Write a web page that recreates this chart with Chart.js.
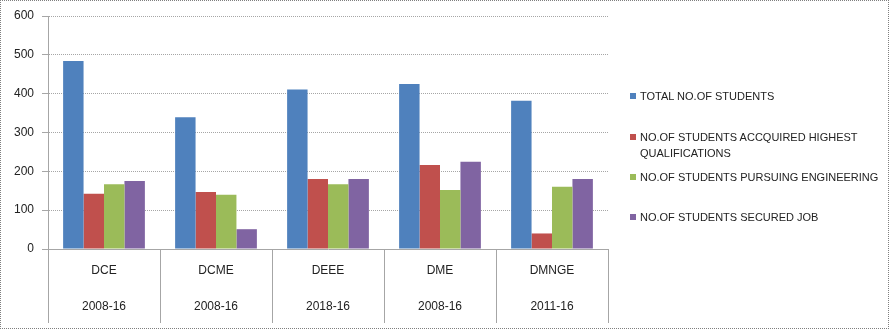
<!DOCTYPE html>
<html>
<head>
<meta charset="utf-8">
<script src="https://cdn.jsdelivr.net/npm/chart.js@4/dist/chart.umd.min.js"></script>
<style>
  body { margin: 0; background: #fff; }
  #wrap { position: relative; width: 891px; height: 331px; }
  #frame { position: absolute; left: 0; top: 0; width: 887px; height: 327px; border: 1px dotted #7f7f7f; pointer-events: none; }
  #legend { position: absolute; left: 630px; top: 0; font-family: "Liberation Sans", Arial, sans-serif; font-size: 11px; color: #222; }
  .item { position: absolute; left: 0; white-space: nowrap; line-height: 16px; }
  .box { position: absolute; left: 0; top: 5px; width: 6px; height: 6px; }
  .txt { position: absolute; left: 10px; top: 0; }
</style>
</head>
<body>
<div id="wrap">
  <canvas id="myChart" width="891" height="331"></canvas>
  <div id="legend"></div>
  <div id="frame"></div>
</div>
<script>
var branches = ["DCE", "DCME", "DEEE", "DME", "DMNGE"];
var batches  = ["2008-16", "2008-16", "2018-16", "2008-16", "2011-16"];

var seriesNames = [
	"TOTAL NO.OF STUDENTS",
	"NO.OF STUDENTS ACCQUIRED HIGHEST QUALIFICATIONS",
	"NO.OF STUDENTS PURSUING ENGINEERING",
	"NO.OF STUDENTS SECURED JOB"
];
var totalStudents   = [484, 339, 411, 425, 382];
var highestQualif   = [142, 147, 180, 216, 40];
var pursuingEngg    = [167, 140, 167, 152, 160];
var securedJob      = [175, 51, 180, 225, 180];

var colors = ["#4f81bd", "#c0504d", "#9bbb59", "#8064a2"];
var legendTops = [88, 129, 169, 209];

var allSeries = [totalStudents, highestQualif, pursuingEngg, securedJob];
var labels = branches.map(function(b, i) { return [b, batches[i]]; });

var datasets = allSeries.map(function(values, i) {
	return {
		label: seriesNames[i],
		data: values,
		backgroundColor: colors[i],
		borderWidth: 0,
		barPercentage: 1,
		categoryPercentage: 0.73
	};
});

// legend on the right, the long name wraps like the original
var legend = document.getElementById("legend");
seriesNames.forEach(function(name, i) {
	var item = document.createElement("div");
	item.className = "item";
	item.style.top = legendTops[i] + "px";
	var text = name.replace("HIGHEST QUALIFICATIONS", "HIGHEST<br>QUALIFICATIONS");
	item.innerHTML = '<span class="box" style="background:' + colors[i] + '"></span><span class="txt">' + text + '</span>';
	legend.appendChild(item);
});

var ctx = document.getElementById('myChart').getContext('2d');
new Chart(ctx, {
	type: 'bar',
	data: { labels: labels, datasets: datasets },
	options: {
		responsive: false,
		animation: false,
		layout: { padding: { left: 0, right: 283, top: 16, bottom: 8 } },
		plugins: { legend: { display: false }, tooltip: { enabled: false } },
		scales: {
			x: {
				grid: {
					offset: true,
					drawOnChartArea: false,
					drawTicks: true,
					tickLength: 74,
					color: "#a6a6a6"
				},
				border: { display: true, color: "#a6a6a6" },
				ticks: {
					padding: -70,
					color: "#222",
					font: { family: "Liberation Sans", size: 12, lineHeight: 3 }
				},
				afterFit: function(scale) { scale.height = 74; }
			},
			y: {
				min: 0,
				max: 600,
				ticks: {
					stepSize: 100,
					padding: 8,
					color: "#222",
					font: { family: "Liberation Sans", size: 12 }
				},
				grid: {
					color: "#a6a6a6",
					tickLength: 6
				},
				border: { color: "#a6a6a6", dash: [1, 1] },
				afterFit: function(scale) { scale.width = 48; }
			}
		}
	}
});
</script>
</body>
</html>
